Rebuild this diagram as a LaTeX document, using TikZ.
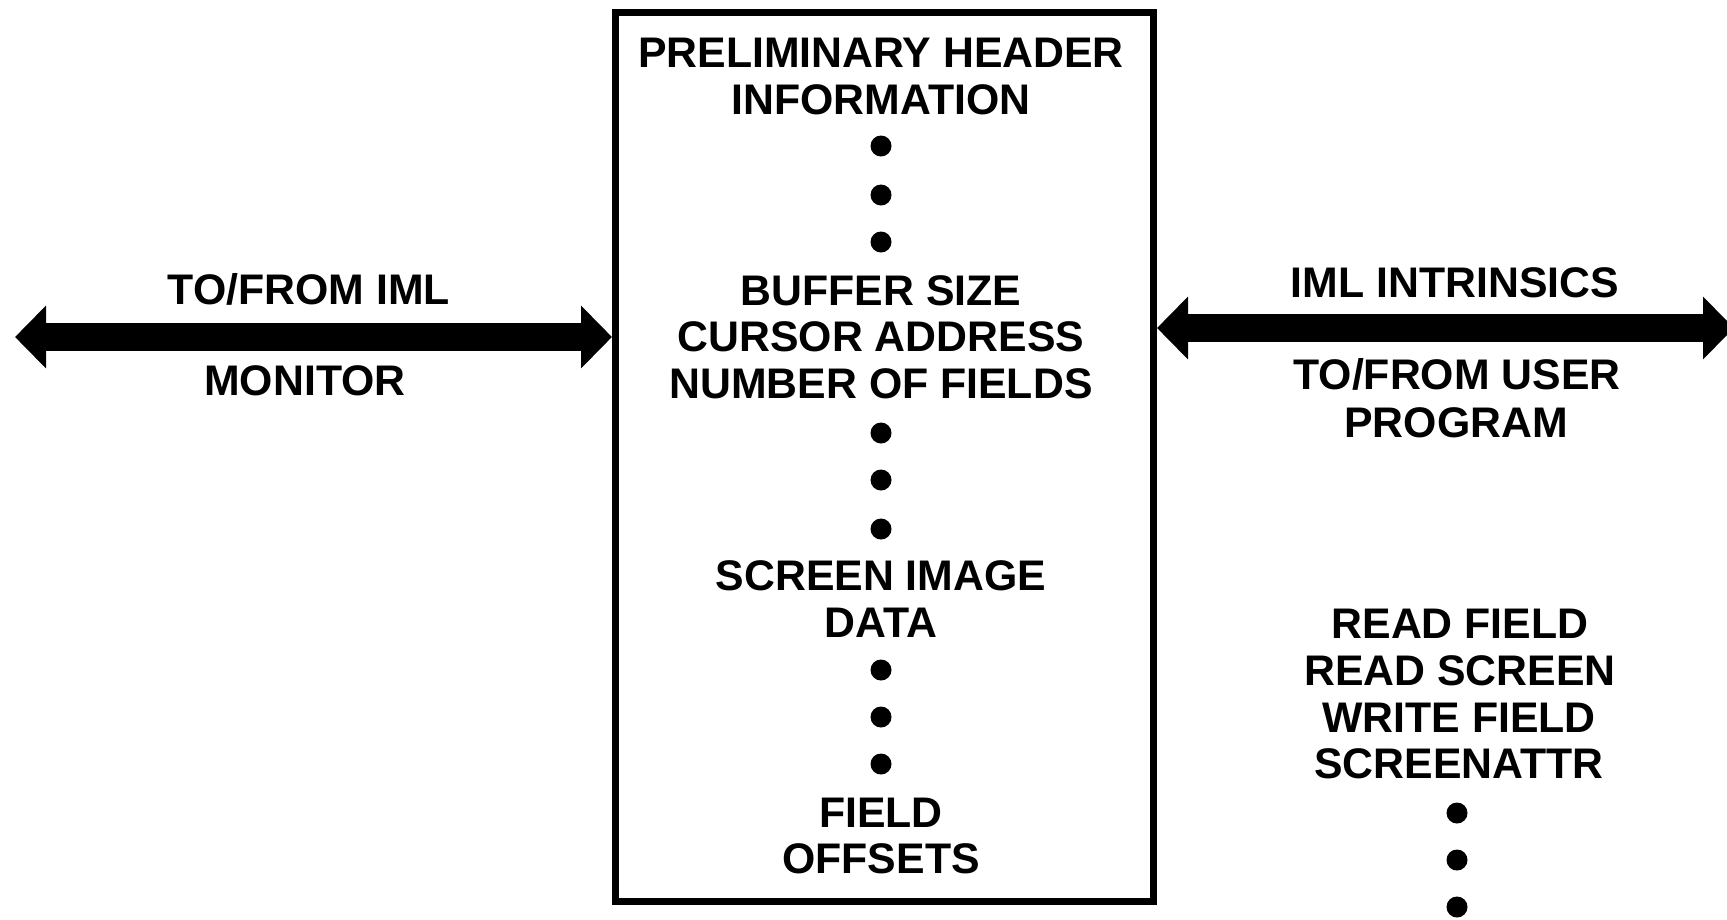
\documentclass[tikz,border=0pt]{standalone}
\usepackage{fontspec}
\setmainfont{Liberation Sans}
\usetikzlibrary{arrows.meta}
\tikzset{
  lbl/.style={font=\fontsize{42.8pt}{47pt}\selectfont\bfseries, anchor=base, inner sep=0pt},
  dot/.style={circle, fill=black, minimum size=21pt, inner sep=0pt},
  bus/.style={line width=28pt, {Triangle[length=31pt,width=61pt]}-{Triangle[length=31pt,width=61pt]}},
  frame/.style={draw, line width=7pt, minimum width=538pt, minimum height=889pt, inner sep=0pt}
}
\begin{document}
\begin{tikzpicture}[x=1pt, y=-1pt]
\useasboundingbox (0,0) rectangle (1727,919);

% central buffer
\node[frame] (box) at (884.5,457) {};

\node[lbl] (h1) at (881,67)  {PRELIMINARY HEADER};
\node[lbl] (h2) at (881,114) {INFORMATION};
\node[dot] (a1) at (881,146) {};
\node[dot] (a2) at (881,195) {};
\node[dot] (a3) at (881,242) {};
\node[lbl] (b1) at (881,305) {BUFFER SIZE};
\node[lbl] (b2) at (881,351) {CURSOR ADDRESS};
\node[lbl] (b3) at (881,398) {NUMBER OF FIELDS};
\node[dot] (c1) at (881,433) {};
\node[dot] (c2) at (881,480) {};
\node[dot] (c3) at (881,529) {};
\node[lbl] (s1) at (881,590) {SCREEN IMAGE};
\node[lbl] (s2) at (881,637) {DATA};
\node[dot] (e1) at (881,670) {};
\node[dot] (e2) at (881,717) {};
\node[dot] (e3) at (881,764) {};
\node[lbl] (f1) at (881,827) {FIELD};
\node[lbl] (f2) at (881,873) {OFFSETS};

% left bus: monitor side
\coordinate (lend) at (15,337);
\draw[bus] (lend) -- (box.west |- lend);
\node[lbl] (l1) at (309,304) {TO/FROM IML};
\node[lbl] (l2) at (305,395) {MONITOR};

% right bus: user program side
\coordinate (rend) at (1734,328);
\draw[bus] (box.east |- rend) -- (rend);
\node[lbl] (r1) at (1455,297) {IML INTRINSICS};
\node[lbl] (r2) at (1457,389) {TO/FROM USER};
\node[lbl] (r3) at (1456,437) {PROGRAM};

% intrinsic list
\node[lbl] (i1) at (1460,638) {READ FIELD};
\node[lbl] (i2) at (1460,685) {READ SCREEN};
\node[lbl] (i3) at (1459,732) {WRITE FIELD};
\node[lbl] (i4) at (1459,778) {SCREENATTR};
\node[dot] (g1) at (1457,813) {};
\node[dot] (g2) at (1457,860) {};
\node[dot] (g3) at (1457,907) {};
\end{tikzpicture}
\end{document}
